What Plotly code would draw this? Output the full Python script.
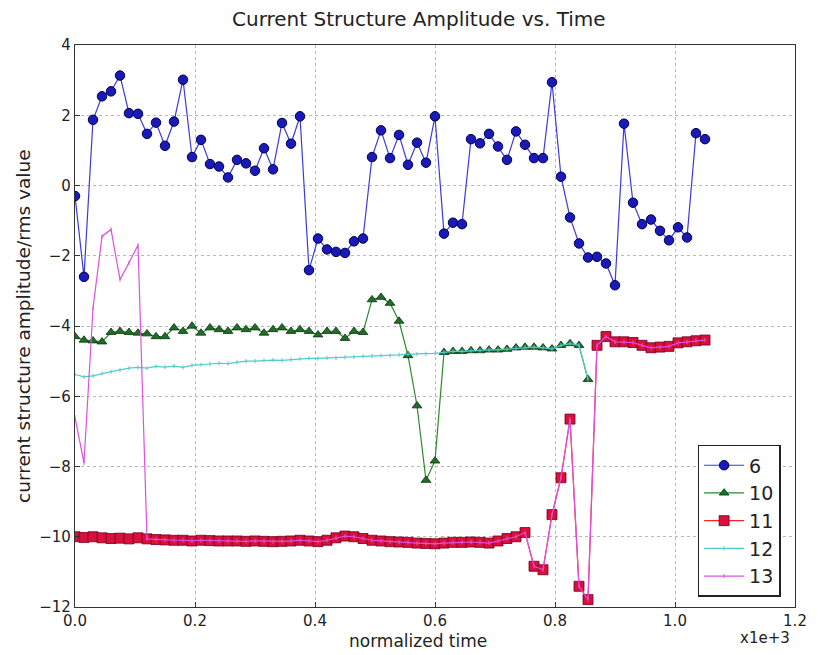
import plotly.graph_objects as go

# Sample times (raw units; the x axis shows them scaled by 1e3)
time_raw = [0, 15, 30, 45, 60, 75, 90, 105, 120, 135, 150, 165, 180, 195, 210,
            225, 240, 255, 270, 285, 300, 315, 330, 345, 360, 375, 390, 405, 420,
            435, 450, 465, 480, 495, 510, 525, 540, 555, 570, 585, 600, 615, 630,
            645, 660, 675, 690, 705, 720, 735, 750, 765, 780, 795, 810, 825, 840,
            855, 870, 885, 900, 915, 930, 945, 960, 975, 990, 1005, 1020, 1035, 1050]
time_scale = 1000.0

amp_6 = [-0.30, -2.60, 1.87, 2.54, 2.68, 3.13, 2.06, 2.04, 1.47, 1.79, 1.13, 1.82,
         3.01, 0.81, 1.30, 0.61, 0.54, 0.23, 0.73, 0.63, 0.42, 1.06, 0.46, 1.78,
         1.19, 1.97, -2.41, -1.51, -1.82, -1.89, -1.92, -1.59, -1.51, 0.81, 1.57,
         0.78, 1.44, 0.59, 1.22, 0.65, 1.97, -1.37, -1.06, -1.10, 1.32, 1.20, 1.47,
         1.11, 0.73, 1.54, 1.16, 0.78, 0.78, 2.94, 0.25, -0.91, -1.65, -2.05, -2.03,
         -2.22, -2.84, 1.76, -0.49, -1.10, -0.97, -1.29, -1.56, -1.19, -1.48, 1.49, 1.32]

amp_10 = [-4.30, -4.40, -4.42, -4.45, -4.18, -4.15, -4.18, -4.20, -4.22, -4.30,
          -4.30, -4.05, -4.15, -4.00, -4.20, -4.05, -4.10, -4.15, -4.05, -4.10,
          -4.05, -4.20, -4.10, -4.05, -4.15, -4.10, -4.15, -4.25, -4.15, -4.15,
          -4.35, -4.15, -4.18, -3.25, -3.18, -3.35, -3.86, -4.84, -6.27, -8.39,
          -7.84, -4.75, -4.72, -4.72, -4.70, -4.70, -4.68, -4.68, -4.66, -4.62,
          -4.60, -4.60, -4.62, -4.65, -4.55, -4.50, -4.55, -5.52]

amp_11 = [-10.00, -10.02, -10.00, -10.03, -10.05, -10.04, -10.06, -10.03, -10.06,
          -10.08, -10.09, -10.10, -10.10, -10.12, -10.10, -10.11, -10.12, -10.12,
          -10.12, -10.13, -10.12, -10.13, -10.14, -10.13, -10.12, -10.10, -10.12,
          -10.14, -10.10, -10.03, -9.98, -10.00, -10.05, -10.10, -10.12, -10.14,
          -10.15, -10.16, -10.18, -10.19, -10.20, -10.18, -10.16, -10.16, -10.15,
          -10.16, -10.18, -10.12, -10.05, -10.00, -9.88, -10.84, -10.94, -9.37,
          -8.32, -6.65, -11.41, -11.79, -4.55, -4.30, -4.45, -4.45, -4.47, -4.55,
          -4.62, -4.60, -4.58, -4.48, -4.45, -4.42, -4.40]

amp_12 = [-5.38, -5.45, -5.42, -5.35, -5.30, -5.25, -5.20, -5.18, -5.20, -5.15,
          -5.17, -5.14, -5.18, -5.12, -5.10, -5.08, -5.06, -5.07, -5.03, -5.00,
          -5.00, -4.98, -4.97, -4.98, -4.96, -4.93, -4.92, -4.92, -4.91, -4.91,
          -4.89, -4.88, -4.86, -4.85, -4.84, -4.84, -4.82, -4.80, -4.80, -4.79,
          -4.78, -4.75, -4.72, -4.72, -4.70, -4.70, -4.68, -4.68, -4.66, -4.62,
          -4.60, -4.60, -4.62, -4.65, -4.55, -4.50, -4.55, -5.52]

amp_13 = [-6.60, -7.90, -3.50, -1.45, -1.25, -2.68, -2.20, -1.70, -10.06,
          -10.08, -10.09, -10.10, -10.10, -10.12, -10.10, -10.11, -10.12, -10.12,
          -10.12, -10.13, -10.12, -10.13, -10.14, -10.13, -10.12, -10.10, -10.12,
          -10.14, -10.10, -10.03, -9.98, -10.00, -10.05, -10.10, -10.12, -10.14,
          -10.15, -10.16, -10.18, -10.19, -10.20, -10.18, -10.16, -10.16, -10.15,
          -10.16, -10.18, -10.12, -10.05, -10.00, -9.88, -10.84, -10.94, -9.37,
          -8.32, -6.65, -11.41, -11.79, -4.55, -4.30, -4.45, -4.45, -4.47, -4.55,
          -4.62, -4.60, -4.58, -4.48, -4.45, -4.42, -4.40]

x_ticks = [0.0, 0.2, 0.4, 0.6, 0.8, 1.0, 1.2]
x_tick_labels = ["0.0", "0.2", "0.4", "0.6", "0.8", "1.0", "1.2"]
y_ticks = [-12, -10, -8, -6, -4, -2, 0, 2, 4]

t = [v / time_scale for v in time_raw]

fig = go.Figure()

fig.add_trace(go.Scatter(
    x=t[:len(amp_6)], y=amp_6, name="6", mode="lines+markers",
    line=dict(color="#3a3ae0", width=1.2),
    marker=dict(symbol="circle", size=9.5, color="#1a1ab8",
                line=dict(color="#000050", width=1))))

fig.add_trace(go.Scatter(
    x=t[:len(amp_10)], y=amp_10, name="10", mode="lines+markers",
    line=dict(color="#2a8a2a", width=1.2),
    marker=dict(symbol="triangle-up", size=8.5, color="#1f6f2a",
                line=dict(color="#0a300a", width=0.8))))

fig.add_trace(go.Scatter(
    x=t[:len(amp_11)], y=amp_11, name="11", mode="lines+markers",
    line=dict(color="#ff2020", width=1.2),
    marker=dict(symbol="square", size=10, color="#d8103a",
                line=dict(color="#700020", width=0.8))))

fig.add_trace(go.Scatter(
    x=t[:len(amp_12)], y=amp_12, name="12", mode="lines+markers",
    line=dict(color="#50cccc", width=1.2),
    marker=dict(symbol="line-ns", size=3, color="#50cccc",
                line=dict(color="#50cccc", width=1))))

fig.add_trace(go.Scatter(
    x=t[:len(amp_13)], y=amp_13, name="13", mode="lines+markers",
    line=dict(color="#e050e0", width=1.2),
    marker=dict(symbol="line-ns", size=3, color="#e050e0",
                line=dict(color="#e050e0", width=1))))

axis_common = dict(
    showline=True, mirror=True, linecolor="#333333", linewidth=1.2,
    ticks="inside", ticklen=5, tickcolor="#333333",
    showgrid=True, gridcolor="#b8b8b8", griddash="dot", gridwidth=1,
    zeroline=False, tickfont=dict(family="DejaVu Sans", size=15, color="#222222"),
)

fig.update_layout(
    width=818, height=655,
    margin=dict(l=75, r=23, t=45, b=48),
    paper_bgcolor="white", plot_bgcolor="white",
    xaxis=dict(range=[0, 1.2], tickvals=x_ticks, ticktext=x_tick_labels, **axis_common),
    yaxis=dict(range=[-12, 4], tickvals=y_ticks, **axis_common),
    showlegend=True,
    legend=dict(
        x=0.98, y=0.018, xanchor="right", yanchor="bottom",
        bgcolor="white", bordercolor="#222222", borderwidth=1.5,
        font=dict(family="DejaVu Sans", size=19, color="#222222"),
        tracegroupgap=0, itemwidth=40,
    ),
    annotations=[
        dict(text="Current Structure Amplitude vs. Time", xref="paper", yref="paper",
             x=0.478, y=1.0, yshift=12, xanchor="center", yanchor="bottom", showarrow=False,
             font=dict(family="DejaVu Sans", size=20, color="#222222")),
        dict(text="normalized time", xref="paper", yref="paper",
             x=0.476, y=0, yshift=-22, xanchor="center", yanchor="top", showarrow=False,
             font=dict(family="DejaVu Sans", size=17, color="#222222")),
        dict(text="current structure amplitude/rms value", xref="paper", yref="paper",
             x=0, y=0.5, xshift=-52, xanchor="center", yanchor="middle", textangle=-90,
             showarrow=False, font=dict(family="DejaVu Sans", size=18.5, color="#222222")),
        dict(text="x1e+3", xref="paper", yref="paper",
             x=0.958, y=0, yshift=-20, xanchor="center", yanchor="top", showarrow=False,
             font=dict(family="DejaVu Sans", size=15, color="#222222")),
    ],
)

fig.write_html("out.html")
